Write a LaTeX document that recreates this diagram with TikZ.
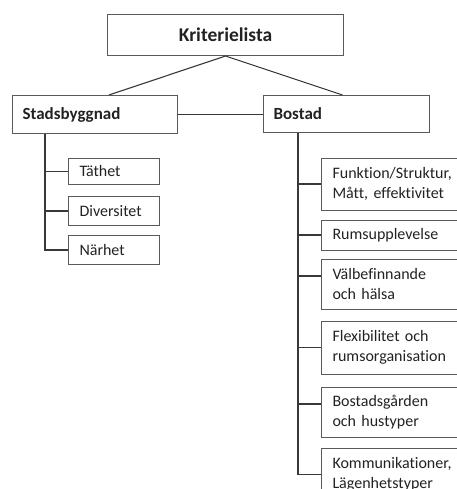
\documentclass[tikz,border=0pt]{standalone}
\usepackage{fontspec}
\setmainfont{Carlito}[Ligatures={NoCommon}]
\usetikzlibrary{positioning}
\definecolor{boxline}{HTML}{5A5A5A}
\definecolor{ink}{HTML}{222222}
\tikzset{
	box/.style={draw=boxline, line width=1pt, anchor=north west, inner xsep=11pt, inner ysep=2pt, text=ink, align=left, font=\fontsize{16}{20.5}\selectfont},
	head/.style={box, inner xsep=10pt, font=\bfseries\fontsize{17}{20}\selectfont},
	openbox/.style={box, draw=none, text width=180pt},
	link/.style={draw=ink!90, line width=1.1pt},
}

\begin{document}
\begin{tikzpicture}[x=1pt, y=-1pt]
	\useasboundingbox (0,0) rectangle (456,489);

	\node[head, align=center, minimum width=236pt, minimum height=41pt, font=\bfseries\fontsize{19.5}{22}\selectfont] (krit) at (107,14) {Kriterielista};
	\node[head, text width=145pt, minimum height=38pt] (stad) at (12,95) {Stadsbyggnad};
	\node[head, text width=146pt, minimum height=37pt] (bost) at (263,95) {Bostad};

	\node[box, text width=69pt, minimum height=26pt] (tathet) at (68,158) {Täthet};
	\node[box, text width=69pt, minimum height=29pt, below=11pt of tathet.south west, anchor=north west] (divers) {Diversitet};
	\node[box, text width=69pt, minimum height=29pt, below=9pt of divers.south west, anchor=north west] (narhet) {Närhet};

	\node[openbox, minimum height=51pt] (funk) at (321,158) {Funktion/Struktur,\\Mått, effektivitet};
	\node[openbox, minimum height=29pt, below=10pt of funk.south west, anchor=north west] (rums) {Rumsupplevelse};
	\node[openbox, minimum height=49pt, below=9pt of rums.south west, anchor=north west] (valb) {Välbefinnande\\och hälsa};
	\node[openbox, minimum height=52pt, below=12pt of valb.south west, anchor=north west] (flex) {Flexibilitet och\\rumsorganisation};
	\node[openbox, minimum height=49pt, below=13pt of flex.south west, anchor=north west] (bostg) {Bostadsgården\\och hustyper};
	\node[openbox, minimum height=52pt, below=11pt of bostg.south west, anchor=north west] (komm) {Kommunikationer,\\Lägenhetstyper};

	% right boxes run off the page
	\foreach \n in {funk, rums, valb, flex, bostg, komm}
		\draw[boxline, line width=1pt] (\n.north east) -| (\n.south west) -- (\n.south east);

	% top level
	\draw[link] (krit.south) -- ([xshift=14pt]stad.north);
	\draw[link] (krit.south) -- ([xshift=-4pt]bost.north);
	\draw[link] (stad.east) -- (stad.east -| bost.west);

	% stadsbyggnad
	\coordinate (stadtrunk) at ([xshift=33pt]stad.south west);
	\draw[link] (stadtrunk) |- (narhet.west);
	\foreach \n in {tathet, divers}
		\draw[link] (stadtrunk |- \n.west) -- (\n.west);

	% bostad
	\coordinate (bosttrunk) at ([xshift=35pt]bost.south west);
	\draw[link] (bosttrunk) |- (komm.west);
	\foreach \n in {funk, rums, flex}
		\draw[link] (bosttrunk |- \n.west) -- (\n.west);
	\coordinate (valbin) at ([yshift=8pt]valb.west);
	\coordinate (bostgin) at ([yshift=8pt]bostg.west);
	\draw[link] (bosttrunk |- valbin) -- (valbin);
	\draw[link] (bosttrunk |- bostgin) -- (bostgin);
\end{tikzpicture}
\end{document}
